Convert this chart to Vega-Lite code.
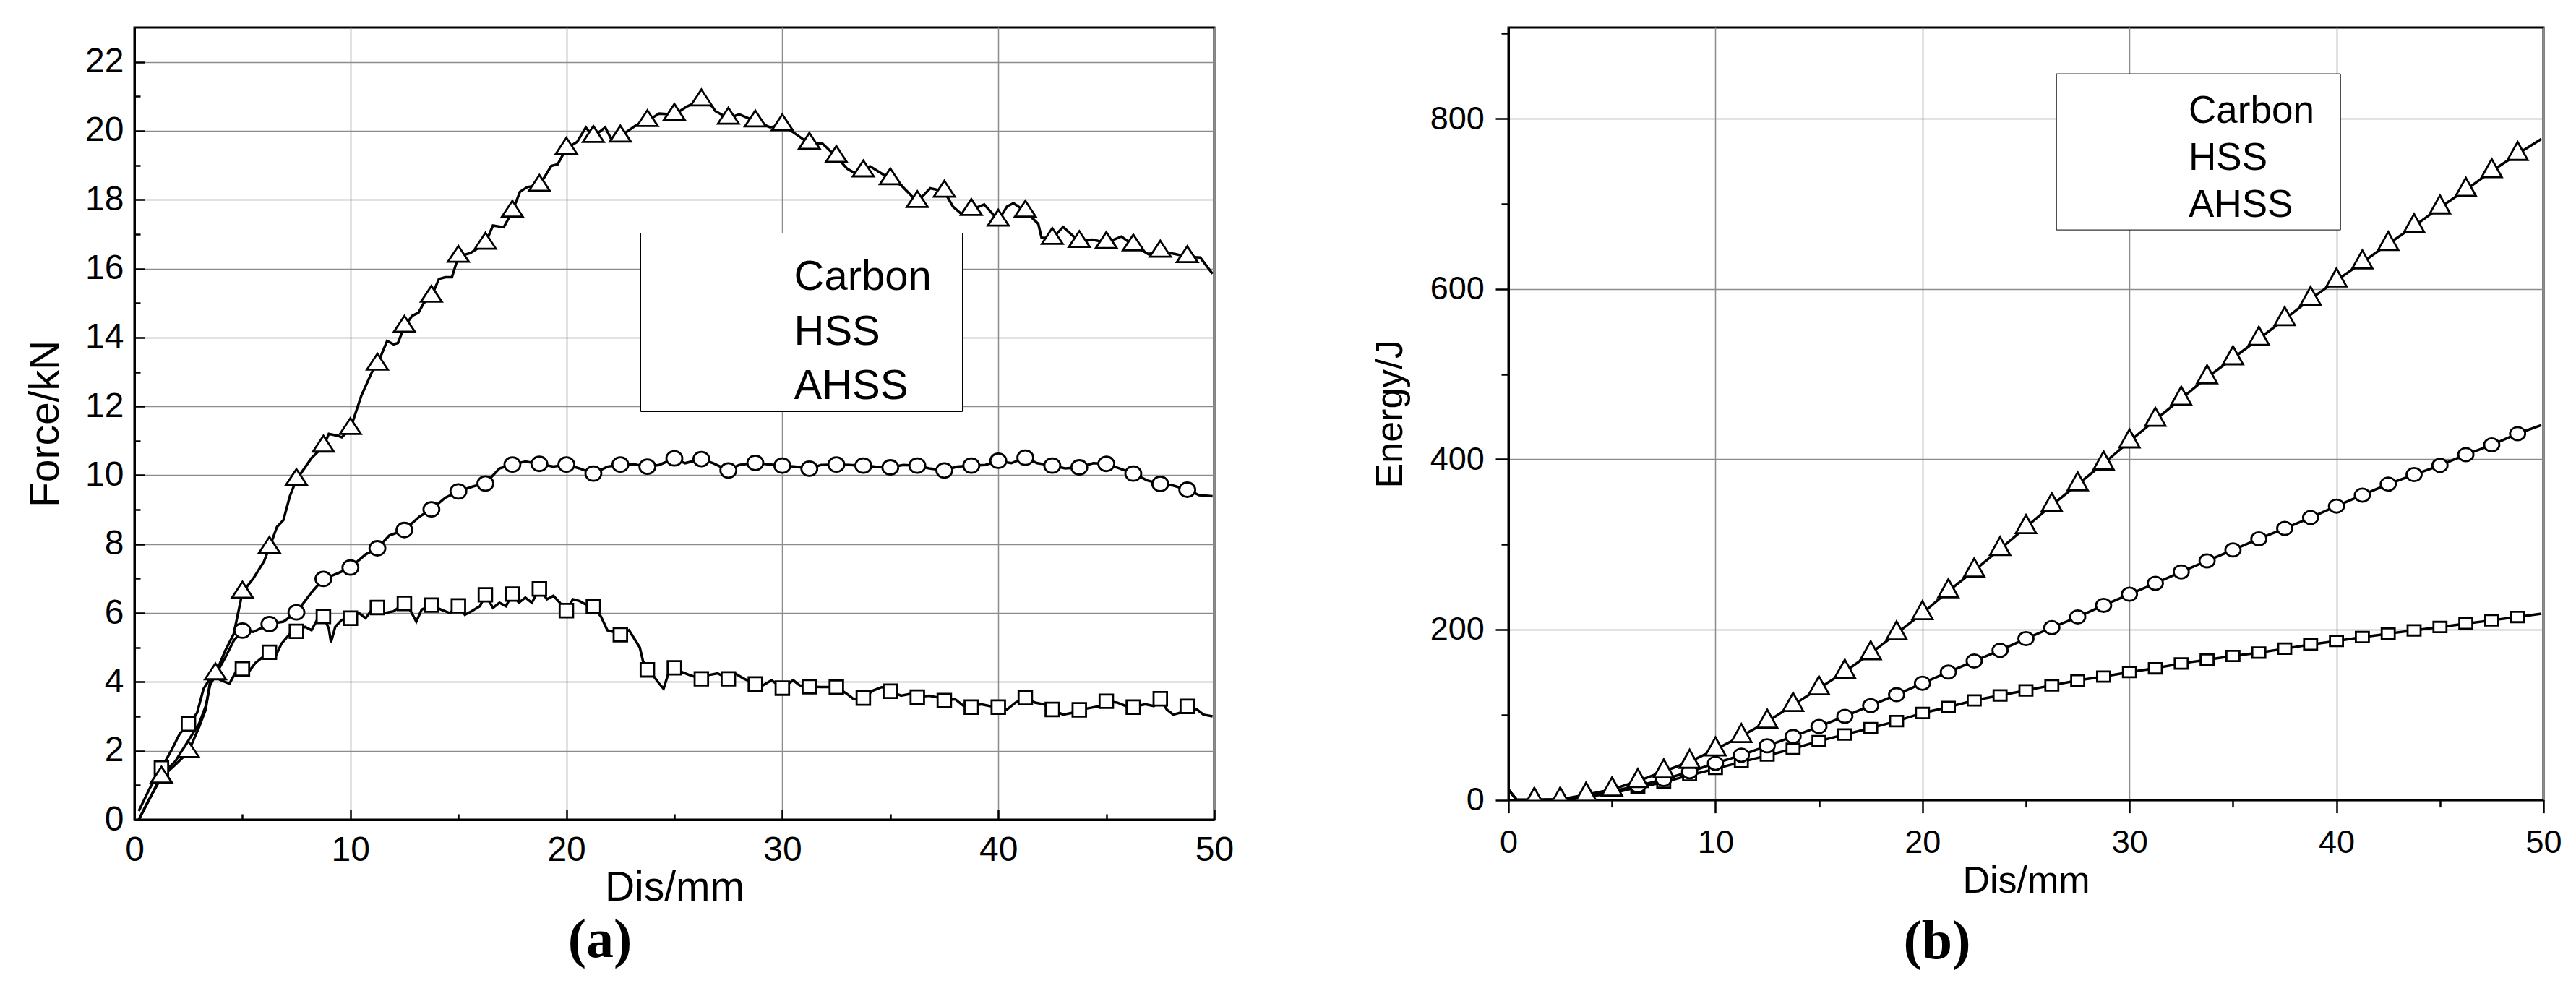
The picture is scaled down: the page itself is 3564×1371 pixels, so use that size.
{
"$schema": "https://vega.github.io/schema/vega-lite/v6.json",
"background": "white",
"padding": {"left": 33, "top": 36, "right": 5, "bottom": 5},
"spacing": 186,
"resolve": {"scale": {"shape": "independent"}, "legend": {"shape": "independent"}},
"datasets": {
"forceCurve": [
{"series":"Carbon","dis":0.2,"force":0.25},{"series":"Carbon","dis":0.7,"force":0.9},{"series":"Carbon","dis":1.25,"force":1.5},{"series":"Carbon","dis":1.7,"force":2.0},{"series":"Carbon","dis":2.1,"force":2.5},{"series":"Carbon","dis":2.5,"force":2.78},{"series":"Carbon","dis":2.9,"force":3.1},{"series":"Carbon","dis":3.2,"force":3.8},{"series":"Carbon","dis":3.5,"force":4.1},{"series":"Carbon","dis":3.75,"force":4.14},{"series":"Carbon","dis":4.0,"force":4.05},{"series":"Carbon","dis":4.4,"force":3.95},{"series":"Carbon","dis":4.7,"force":4.3},{"series":"Carbon","dis":5,"force":4.38},{"series":"Carbon","dis":5.3,"force":4.3},{"series":"Carbon","dis":5.6,"force":4.55},{"series":"Carbon","dis":6.0,"force":4.75},{"series":"Carbon","dis":6.25,"force":4.86},{"series":"Carbon","dis":6.5,"force":4.7},{"series":"Carbon","dis":6.8,"force":5.1},{"series":"Carbon","dis":7.2,"force":5.4},{"series":"Carbon","dis":7.5,"force":5.47},{"series":"Carbon","dis":7.9,"force":5.6},{"series":"Carbon","dis":8.2,"force":5.5},{"series":"Carbon","dis":8.5,"force":5.85},{"series":"Carbon","dis":8.75,"force":5.9},{"series":"Carbon","dis":9.0,"force":5.55},{"series":"Carbon","dis":9.1,"force":5.15},{"series":"Carbon","dis":9.3,"force":5.6},{"series":"Carbon","dis":9.6,"force":5.8},{"series":"Carbon","dis":10,"force":5.85},{"series":"Carbon","dis":10.4,"force":6.0},{"series":"Carbon","dis":10.7,"force":5.85},{"series":"Carbon","dis":11.0,"force":6.1},{"series":"Carbon","dis":11.25,"force":6.16},{"series":"Carbon","dis":11.6,"force":6.0},{"series":"Carbon","dis":12.0,"force":6.05},{"series":"Carbon","dis":12.5,"force":6.28},{"series":"Carbon","dis":12.8,"force":6.05},{"series":"Carbon","dis":13.05,"force":5.75},{"series":"Carbon","dis":13.3,"force":6.1},{"series":"Carbon","dis":13.75,"force":6.23},{"series":"Carbon","dis":14.2,"force":6.1},{"series":"Carbon","dis":14.6,"force":6.0},{"series":"Carbon","dis":15,"force":6.21},{"series":"Carbon","dis":15.3,"force":5.95},{"series":"Carbon","dis":15.6,"force":6.05},{"series":"Carbon","dis":16.0,"force":6.2},{"series":"Carbon","dis":16.25,"force":6.53},{"series":"Carbon","dis":16.6,"force":6.15},{"series":"Carbon","dis":16.9,"force":6.3},{"series":"Carbon","dis":17.2,"force":6.2},{"series":"Carbon","dis":17.5,"force":6.55},{"series":"Carbon","dis":17.8,"force":6.3},{"series":"Carbon","dis":18.1,"force":6.45},{"series":"Carbon","dis":18.4,"force":6.3},{"series":"Carbon","dis":18.75,"force":6.7},{"series":"Carbon","dis":19.1,"force":6.4},{"series":"Carbon","dis":19.4,"force":6.5},{"series":"Carbon","dis":19.7,"force":6.3},{"series":"Carbon","dis":20,"force":6.07},{"series":"Carbon","dis":20.3,"force":6.4},{"series":"Carbon","dis":20.6,"force":6.35},{"series":"Carbon","dis":20.9,"force":6.25},{"series":"Carbon","dis":21.25,"force":6.19},{"series":"Carbon","dis":21.6,"force":5.9},{"series":"Carbon","dis":21.9,"force":5.5},{"series":"Carbon","dis":22.2,"force":5.45},{"series":"Carbon","dis":22.5,"force":5.37},{"series":"Carbon","dis":22.9,"force":5.5},{"series":"Carbon","dis":23.2,"force":5.2},{"series":"Carbon","dis":23.4,"force":5.0},{"series":"Carbon","dis":23.55,"force":4.6},{"series":"Carbon","dis":23.75,"force":4.35},{"series":"Carbon","dis":24.0,"force":4.2},{"series":"Carbon","dis":24.3,"force":3.95},{"series":"Carbon","dis":24.5,"force":3.8},{"series":"Carbon","dis":24.7,"force":4.2},{"series":"Carbon","dis":25,"force":4.41},{"series":"Carbon","dis":25.3,"force":4.3},{"series":"Carbon","dis":25.7,"force":4.2},{"series":"Carbon","dis":26.25,"force":4.09},{"series":"Carbon","dis":26.6,"force":4.2},{"series":"Carbon","dis":27.0,"force":4.25},{"series":"Carbon","dis":27.5,"force":4.09},{"series":"Carbon","dis":27.8,"force":4.25},{"series":"Carbon","dis":28.2,"force":4.1},{"series":"Carbon","dis":28.75,"force":3.94},{"series":"Carbon","dis":29.1,"force":3.9},{"series":"Carbon","dis":29.5,"force":4.05},{"series":"Carbon","dis":30,"force":3.82},{"series":"Carbon","dis":30.5,"force":4.05},{"series":"Carbon","dis":30.8,"force":3.9},{"series":"Carbon","dis":31.25,"force":3.86},{"series":"Carbon","dis":31.8,"force":3.85},{"series":"Carbon","dis":32.5,"force":3.85},{"series":"Carbon","dis":33.0,"force":3.65},{"series":"Carbon","dis":33.3,"force":3.5},{"series":"Carbon","dis":33.75,"force":3.53},{"series":"Carbon","dis":34.2,"force":3.75},{"series":"Carbon","dis":34.6,"force":3.85},{"series":"Carbon","dis":35,"force":3.73},{"series":"Carbon","dis":35.5,"force":3.6},{"series":"Carbon","dis":35.9,"force":3.65},{"series":"Carbon","dis":36.25,"force":3.56},{"series":"Carbon","dis":36.8,"force":3.6},{"series":"Carbon","dis":37.2,"force":3.55},{"series":"Carbon","dis":37.5,"force":3.46},{"series":"Carbon","dis":38.0,"force":3.5},{"series":"Carbon","dis":38.4,"force":3.3},{"series":"Carbon","dis":38.75,"force":3.27},{"series":"Carbon","dis":39.2,"force":3.35},{"series":"Carbon","dis":39.6,"force":3.3},{"series":"Carbon","dis":40,"force":3.27},{"series":"Carbon","dis":40.4,"force":3.2},{"series":"Carbon","dis":40.8,"force":3.4},{"series":"Carbon","dis":41.25,"force":3.54},{"series":"Carbon","dis":41.7,"force":3.4},{"series":"Carbon","dis":42.1,"force":3.35},{"series":"Carbon","dis":42.5,"force":3.2},{"series":"Carbon","dis":43.0,"force":3.05},{"series":"Carbon","dis":43.4,"force":3.1},{"series":"Carbon","dis":43.75,"force":3.19},{"series":"Carbon","dis":44.3,"force":3.25},{"series":"Carbon","dis":44.7,"force":3.3},{"series":"Carbon","dis":45,"force":3.44},{"series":"Carbon","dis":45.5,"force":3.4},{"series":"Carbon","dis":45.9,"force":3.3},{"series":"Carbon","dis":46.25,"force":3.27},{"series":"Carbon","dis":46.8,"force":3.35},{"series":"Carbon","dis":47.2,"force":3.3},{"series":"Carbon","dis":47.5,"force":3.51},{"series":"Carbon","dis":47.8,"force":3.2},{"series":"Carbon","dis":48.1,"force":3.05},{"series":"Carbon","dis":48.4,"force":3.1},{"series":"Carbon","dis":48.75,"force":3.29},{"series":"Carbon","dis":49.2,"force":3.2},{"series":"Carbon","dis":49.5,"force":3.05},{"series":"Carbon","dis":49.92,"force":3.0},
{"series":"HSS","dis":0.2,"force":0},{"series":"HSS","dis":0.7,"force":0.6},{"series":"HSS","dis":1.25,"force":1.3},{"series":"HSS","dis":1.9,"force":1.7},{"series":"HSS","dis":2.5,"force":2.3},{"series":"HSS","dis":3.0,"force":2.8},{"series":"HSS","dis":3.3,"force":3.3},{"series":"HSS","dis":3.5,"force":3.9},{"series":"HSS","dis":3.75,"force":4.2},{"series":"HSS","dis":4.2,"force":4.7},{"series":"HSS","dis":4.6,"force":5.2},{"series":"HSS","dis":5,"force":5.49},{"series":"HSS","dis":5.5,"force":5.45},{"series":"HSS","dis":6.25,"force":5.68},{"series":"HSS","dis":6.9,"force":5.75},{"series":"HSS","dis":7.5,"force":6.02},{"series":"HSS","dis":8.2,"force":6.6},{"series":"HSS","dis":8.75,"force":6.99},{"series":"HSS","dis":9.4,"force":7.15},{"series":"HSS","dis":10,"force":7.32},{"series":"HSS","dis":10.7,"force":7.7},{"series":"HSS","dis":11.25,"force":7.88},{"series":"HSS","dis":11.8,"force":8.25},{"series":"HSS","dis":12.5,"force":8.41},{"series":"HSS","dis":13.2,"force":8.8},{"series":"HSS","dis":13.75,"force":9.01},{"series":"HSS","dis":14.4,"force":9.35},{"series":"HSS","dis":15,"force":9.53},{"series":"HSS","dis":15.7,"force":9.68},{"series":"HSS","dis":16.25,"force":9.76},{"series":"HSS","dis":16.9,"force":10.2},{"series":"HSS","dis":17.5,"force":10.31},{"series":"HSS","dis":18.1,"force":10.4},{"series":"HSS","dis":18.75,"force":10.33},{"series":"HSS","dis":19.4,"force":10.25},{"series":"HSS","dis":20,"force":10.31},{"series":"HSS","dis":20.6,"force":10.2},{"series":"HSS","dis":21.25,"force":10.05},{"series":"HSS","dis":21.9,"force":10.25},{"series":"HSS","dis":22.5,"force":10.31},{"series":"HSS","dis":23.1,"force":10.32},{"series":"HSS","dis":23.75,"force":10.25},{"series":"HSS","dis":24.3,"force":10.3},{"series":"HSS","dis":25,"force":10.49},{"series":"HSS","dis":25.5,"force":10.35},{"series":"HSS","dis":26.25,"force":10.47},{"series":"HSS","dis":26.8,"force":10.35},{"series":"HSS","dis":27.5,"force":10.14},{"series":"HSS","dis":28.0,"force":10.3},{"series":"HSS","dis":28.75,"force":10.36},{"series":"HSS","dis":29.3,"force":10.32},{"series":"HSS","dis":30,"force":10.28},{"series":"HSS","dis":30.6,"force":10.25},{"series":"HSS","dis":31.25,"force":10.19},{"series":"HSS","dis":31.8,"force":10.3},{"series":"HSS","dis":32.5,"force":10.31},{"series":"HSS","dis":33.1,"force":10.3},{"series":"HSS","dis":33.75,"force":10.28},{"series":"HSS","dis":34.3,"force":10.25},{"series":"HSS","dis":35,"force":10.23},{"series":"HSS","dis":35.6,"force":10.3},{"series":"HSS","dis":36.25,"force":10.28},{"series":"HSS","dis":36.8,"force":10.2},{"series":"HSS","dis":37.5,"force":10.14},{"series":"HSS","dis":38.1,"force":10.25},{"series":"HSS","dis":38.75,"force":10.28},{"series":"HSS","dis":39.4,"force":10.3},{"series":"HSS","dis":40,"force":10.42},{"series":"HSS","dis":40.6,"force":10.35},{"series":"HSS","dis":41.25,"force":10.51},{"series":"HSS","dis":41.8,"force":10.35},{"series":"HSS","dis":42.5,"force":10.28},{"series":"HSS","dis":43.1,"force":10.2},{"series":"HSS","dis":43.75,"force":10.23},{"series":"HSS","dis":44.4,"force":10.35},{"series":"HSS","dis":45,"force":10.33},{"series":"HSS","dis":45.6,"force":10.2},{"series":"HSS","dis":46.25,"force":10.05},{"series":"HSS","dis":46.9,"force":9.85},{"series":"HSS","dis":47.5,"force":9.75},{"series":"HSS","dis":48.1,"force":9.7},{"series":"HSS","dis":48.75,"force":9.58},{"series":"HSS","dis":49.3,"force":9.42},{"series":"HSS","dis":49.92,"force":9.39},
{"series":"AHSS","dis":0.2,"force":0},{"series":"AHSS","dis":0.6,"force":0.5},{"series":"AHSS","dis":1.25,"force":1.23},{"series":"AHSS","dis":1.9,"force":1.6},{"series":"AHSS","dis":2.5,"force":1.97},{"series":"AHSS","dis":3.0,"force":2.7},{"series":"AHSS","dis":3.3,"force":3.2},{"series":"AHSS","dis":3.5,"force":4.0},{"series":"AHSS","dis":3.75,"force":4.23},{"series":"AHSS","dis":4.2,"force":4.9},{"series":"AHSS","dis":4.6,"force":5.4},{"series":"AHSS","dis":5,"force":6.6},{"series":"AHSS","dis":5.5,"force":7.0},{"series":"AHSS","dis":6.0,"force":7.5},{"series":"AHSS","dis":6.25,"force":7.9},{"series":"AHSS","dis":6.6,"force":8.5},{"series":"AHSS","dis":6.9,"force":8.7},{"series":"AHSS","dis":7.2,"force":9.4},{"series":"AHSS","dis":7.5,"force":9.87},{"series":"AHSS","dis":8.2,"force":10.5},{"series":"AHSS","dis":8.75,"force":10.84},{"series":"AHSS","dis":9.0,"force":11.2},{"series":"AHSS","dis":9.4,"force":11.15},{"series":"AHSS","dis":9.6,"force":11.1},{"series":"AHSS","dis":10,"force":11.35},{"series":"AHSS","dis":10.5,"force":12.3},{"series":"AHSS","dis":11.0,"force":13.0},{"series":"AHSS","dis":11.25,"force":13.22},{"series":"AHSS","dis":11.7,"force":13.9},{"series":"AHSS","dis":12.0,"force":13.8},{"series":"AHSS","dis":12.2,"force":13.84},{"series":"AHSS","dis":12.5,"force":14.32},{"series":"AHSS","dis":12.86,"force":14.63},{"series":"AHSS","dis":13.15,"force":14.72},{"series":"AHSS","dis":13.4,"force":15.0},{"series":"AHSS","dis":13.75,"force":15.19},{"series":"AHSS","dis":14.1,"force":15.7},{"series":"AHSS","dis":14.4,"force":15.75},{"series":"AHSS","dis":14.7,"force":15.75},{"series":"AHSS","dis":15,"force":16.35},{"series":"AHSS","dis":15.55,"force":16.45},{"series":"AHSS","dis":16.25,"force":16.73},{"series":"AHSS","dis":16.6,"force":17.25},{"series":"AHSS","dis":17.1,"force":17.2},{"series":"AHSS","dis":17.5,"force":17.66},{"series":"AHSS","dis":17.85,"force":18.23},{"series":"AHSS","dis":18.2,"force":18.37},{"series":"AHSS","dis":18.75,"force":18.41},{"series":"AHSS","dis":19.3,"force":18.98},{"series":"AHSS","dis":19.6,"force":19.03},{"series":"AHSS","dis":20,"force":19.49},{"series":"AHSS","dis":20.5,"force":19.68},{"series":"AHSS","dis":20.9,"force":20.1},{"series":"AHSS","dis":21.25,"force":19.83},{"series":"AHSS","dis":21.8,"force":20.1},{"series":"AHSS","dis":22.1,"force":19.73},{"series":"AHSS","dis":22.5,"force":19.84},{"series":"AHSS","dis":23.2,"force":20.15},{"series":"AHSS","dis":23.75,"force":20.29},{"series":"AHSS","dis":24.3,"force":20.5},{"series":"AHSS","dis":25,"force":20.47},{"series":"AHSS","dis":25.6,"force":20.71},{"series":"AHSS","dis":26.25,"force":20.89},{"series":"AHSS","dis":26.75,"force":20.71},{"series":"AHSS","dis":26.9,"force":20.57},{"series":"AHSS","dis":27.5,"force":20.36},{"series":"AHSS","dis":28.0,"force":20.48},{"series":"AHSS","dis":28.75,"force":20.28},{"series":"AHSS","dis":29.44,"force":20.1},{"series":"AHSS","dis":30,"force":20.17},{"series":"AHSS","dis":30.5,"force":19.96},{"series":"AHSS","dis":31.25,"force":19.63},{"series":"AHSS","dis":31.85,"force":19.63},{"series":"AHSS","dis":32.5,"force":19.25},{"series":"AHSS","dis":33.0,"force":18.9},{"series":"AHSS","dis":33.3,"force":18.79},{"series":"AHSS","dis":33.75,"force":18.83},{"series":"AHSS","dis":34.06,"force":18.97},{"series":"AHSS","dis":34.5,"force":18.8},{"series":"AHSS","dis":35,"force":18.6},{"series":"AHSS","dis":35.5,"force":18.42},{"series":"AHSS","dis":36.25,"force":17.94},{"series":"AHSS","dis":36.85,"force":18.33},{"series":"AHSS","dis":37.5,"force":18.24},{"series":"AHSS","dis":37.9,"force":17.8},{"series":"AHSS","dis":38.3,"force":17.58},{"series":"AHSS","dis":38.75,"force":17.71},{"series":"AHSS","dis":39.35,"force":17.86},{"series":"AHSS","dis":40,"force":17.4},{"series":"AHSS","dis":40.4,"force":17.8},{"series":"AHSS","dis":40.7,"force":17.9},{"series":"AHSS","dis":41.25,"force":17.66},{"series":"AHSS","dis":41.85,"force":17.3},{"series":"AHSS","dis":42.0,"force":16.9},{"series":"AHSS","dis":42.5,"force":16.87},{"series":"AHSS","dis":43.0,"force":17.21},{"series":"AHSS","dis":43.75,"force":16.78},{"series":"AHSS","dis":44.35,"force":16.84},{"series":"AHSS","dis":45,"force":16.75},{"series":"AHSS","dis":45.7,"force":16.93},{"series":"AHSS","dis":46.25,"force":16.68},{"series":"AHSS","dis":46.95,"force":16.42},{"series":"AHSS","dis":47.5,"force":16.5},{"series":"AHSS","dis":48.2,"force":16.42},{"series":"AHSS","dis":48.75,"force":16.34},{"series":"AHSS","dis":49.35,"force":16.32},{"series":"AHSS","dis":49.92,"force":15.85}
],
"forceMarks": [
{"series":"Carbon","dis":1.25,"force":1.5},{"series":"Carbon","dis":2.5,"force":2.78},{"series":"Carbon","dis":5,"force":4.38},{"series":"Carbon","dis":6.25,"force":4.86},{"series":"Carbon","dis":7.5,"force":5.47},{"series":"Carbon","dis":8.75,"force":5.9},{"series":"Carbon","dis":10,"force":5.85},{"series":"Carbon","dis":11.25,"force":6.16},{"series":"Carbon","dis":12.5,"force":6.28},{"series":"Carbon","dis":13.75,"force":6.23},{"series":"Carbon","dis":15,"force":6.21},{"series":"Carbon","dis":16.25,"force":6.53},{"series":"Carbon","dis":17.5,"force":6.55},{"series":"Carbon","dis":18.75,"force":6.7},{"series":"Carbon","dis":20,"force":6.07},{"series":"Carbon","dis":21.25,"force":6.19},{"series":"Carbon","dis":22.5,"force":5.37},{"series":"Carbon","dis":23.75,"force":4.35},{"series":"Carbon","dis":25,"force":4.41},{"series":"Carbon","dis":26.25,"force":4.09},{"series":"Carbon","dis":27.5,"force":4.09},{"series":"Carbon","dis":28.75,"force":3.94},{"series":"Carbon","dis":30,"force":3.82},{"series":"Carbon","dis":31.25,"force":3.86},{"series":"Carbon","dis":32.5,"force":3.85},{"series":"Carbon","dis":33.75,"force":3.53},{"series":"Carbon","dis":35,"force":3.73},{"series":"Carbon","dis":36.25,"force":3.56},{"series":"Carbon","dis":37.5,"force":3.46},{"series":"Carbon","dis":38.75,"force":3.27},{"series":"Carbon","dis":40,"force":3.27},{"series":"Carbon","dis":41.25,"force":3.54},{"series":"Carbon","dis":42.5,"force":3.2},{"series":"Carbon","dis":43.75,"force":3.19},{"series":"Carbon","dis":45,"force":3.44},{"series":"Carbon","dis":46.25,"force":3.27},{"series":"Carbon","dis":47.5,"force":3.51},{"series":"Carbon","dis":48.75,"force":3.29},
{"series":"HSS","dis":5,"force":5.49},{"series":"HSS","dis":6.25,"force":5.68},{"series":"HSS","dis":7.5,"force":6.02},{"series":"HSS","dis":8.75,"force":6.99},{"series":"HSS","dis":10,"force":7.32},{"series":"HSS","dis":11.25,"force":7.88},{"series":"HSS","dis":12.5,"force":8.41},{"series":"HSS","dis":13.75,"force":9.01},{"series":"HSS","dis":15,"force":9.53},{"series":"HSS","dis":16.25,"force":9.76},{"series":"HSS","dis":17.5,"force":10.31},{"series":"HSS","dis":18.75,"force":10.33},{"series":"HSS","dis":20,"force":10.31},{"series":"HSS","dis":21.25,"force":10.05},{"series":"HSS","dis":22.5,"force":10.31},{"series":"HSS","dis":23.75,"force":10.25},{"series":"HSS","dis":25,"force":10.49},{"series":"HSS","dis":26.25,"force":10.47},{"series":"HSS","dis":27.5,"force":10.14},{"series":"HSS","dis":28.75,"force":10.36},{"series":"HSS","dis":30,"force":10.28},{"series":"HSS","dis":31.25,"force":10.19},{"series":"HSS","dis":32.5,"force":10.31},{"series":"HSS","dis":33.75,"force":10.28},{"series":"HSS","dis":35,"force":10.23},{"series":"HSS","dis":36.25,"force":10.28},{"series":"HSS","dis":37.5,"force":10.14},{"series":"HSS","dis":38.75,"force":10.28},{"series":"HSS","dis":40,"force":10.42},{"series":"HSS","dis":41.25,"force":10.51},{"series":"HSS","dis":42.5,"force":10.28},{"series":"HSS","dis":43.75,"force":10.23},{"series":"HSS","dis":45,"force":10.33},{"series":"HSS","dis":46.25,"force":10.05},{"series":"HSS","dis":47.5,"force":9.75},{"series":"HSS","dis":48.75,"force":9.58},
{"series":"AHSS","dis":1.25,"force":1.23},{"series":"AHSS","dis":2.5,"force":1.97},{"series":"AHSS","dis":3.75,"force":4.23},{"series":"AHSS","dis":5,"force":6.6},{"series":"AHSS","dis":6.25,"force":7.9},{"series":"AHSS","dis":7.5,"force":9.87},{"series":"AHSS","dis":8.75,"force":10.84},{"series":"AHSS","dis":10,"force":11.35},{"series":"AHSS","dis":11.25,"force":13.22},{"series":"AHSS","dis":12.5,"force":14.32},{"series":"AHSS","dis":13.75,"force":15.19},{"series":"AHSS","dis":15,"force":16.35},{"series":"AHSS","dis":16.25,"force":16.73},{"series":"AHSS","dis":17.5,"force":17.66},{"series":"AHSS","dis":18.75,"force":18.41},{"series":"AHSS","dis":20,"force":19.49},{"series":"AHSS","dis":21.25,"force":19.83},{"series":"AHSS","dis":22.5,"force":19.84},{"series":"AHSS","dis":23.75,"force":20.29},{"series":"AHSS","dis":25,"force":20.47},{"series":"AHSS","dis":26.25,"force":20.89},{"series":"AHSS","dis":27.5,"force":20.36},{"series":"AHSS","dis":28.75,"force":20.28},{"series":"AHSS","dis":30,"force":20.17},{"series":"AHSS","dis":31.25,"force":19.63},{"series":"AHSS","dis":32.5,"force":19.25},{"series":"AHSS","dis":33.75,"force":18.83},{"series":"AHSS","dis":35,"force":18.6},{"series":"AHSS","dis":36.25,"force":17.94},{"series":"AHSS","dis":37.5,"force":18.24},{"series":"AHSS","dis":38.75,"force":17.71},{"series":"AHSS","dis":40,"force":17.4},{"series":"AHSS","dis":41.25,"force":17.66},{"series":"AHSS","dis":42.5,"force":16.87},{"series":"AHSS","dis":43.75,"force":16.78},{"series":"AHSS","dis":45,"force":16.75},{"series":"AHSS","dis":46.25,"force":16.68},{"series":"AHSS","dis":47.5,"force":16.5},{"series":"AHSS","dis":48.75,"force":16.34}
],
"energyCurve": [
{"series":"Carbon","dis":0,"energy":12},{"series":"Carbon","dis":0.4,"energy":0},{"series":"Carbon","dis":1.25,"energy":0},{"series":"Carbon","dis":2.5,"energy":0.5},{"series":"Carbon","dis":3.75,"energy":3.5},{"series":"Carbon","dis":5,"energy":8},{"series":"Carbon","dis":6.25,"energy":14.7},{"series":"Carbon","dis":7.5,"energy":20.6},{"series":"Carbon","dis":8.75,"energy":29},{"series":"Carbon","dis":10,"energy":36.5},{"series":"Carbon","dis":11.25,"energy":44.5},{"series":"Carbon","dis":12.5,"energy":52.1},{"series":"Carbon","dis":13.75,"energy":60},{"series":"Carbon","dis":15,"energy":69},{"series":"Carbon","dis":16.25,"energy":76.8},{"series":"Carbon","dis":17.5,"energy":84.3},{"series":"Carbon","dis":18.75,"energy":92.5},{"series":"Carbon","dis":20,"energy":102},{"series":"Carbon","dis":21.25,"energy":109},{"series":"Carbon","dis":22.5,"energy":116.8},{"series":"Carbon","dis":23.75,"energy":122.7},{"series":"Carbon","dis":25,"energy":128.6},{"series":"Carbon","dis":26.25,"energy":134.5},{"series":"Carbon","dis":27.5,"energy":140.3},{"series":"Carbon","dis":28.75,"energy":144.8},{"series":"Carbon","dis":30,"energy":150.1},{"series":"Carbon","dis":31.25,"energy":154.5},{"series":"Carbon","dis":32.5,"energy":160.2},{"series":"Carbon","dis":33.75,"energy":164.6},{"series":"Carbon","dis":35,"energy":169},{"series":"Carbon","dis":36.25,"energy":172.9},{"series":"Carbon","dis":37.5,"energy":177.6},{"series":"Carbon","dis":38.75,"energy":182.4},{"series":"Carbon","dis":40,"energy":186.6},{"series":"Carbon","dis":41.25,"energy":191.1},{"series":"Carbon","dis":42.5,"energy":195.2},{"series":"Carbon","dis":43.75,"energy":199.1},{"series":"Carbon","dis":45,"energy":203},{"series":"Carbon","dis":46.25,"energy":207},{"series":"Carbon","dis":47.5,"energy":210.9},{"series":"Carbon","dis":48.75,"energy":214.8},{"series":"Carbon","dis":49.9,"energy":218.7},
{"series":"HSS","dis":0,"energy":12},{"series":"HSS","dis":0.4,"energy":0},{"series":"HSS","dis":1.25,"energy":0},{"series":"HSS","dis":2.5,"energy":0.5},{"series":"HSS","dis":3.75,"energy":4},{"series":"HSS","dis":5,"energy":10},{"series":"HSS","dis":6.25,"energy":16.5},{"series":"HSS","dis":7.5,"energy":24},{"series":"HSS","dis":8.75,"energy":33},{"series":"HSS","dis":10,"energy":43},{"series":"HSS","dis":11.25,"energy":52.5},{"series":"HSS","dis":12.5,"energy":63.5},{"series":"HSS","dis":13.75,"energy":74.5},{"series":"HSS","dis":15,"energy":86.2},{"series":"HSS","dis":16.25,"energy":98.2},{"series":"HSS","dis":17.5,"energy":110.7},{"series":"HSS","dis":18.75,"energy":123.5},{"series":"HSS","dis":20,"energy":137},{"series":"HSS","dis":21.25,"energy":150},{"series":"HSS","dis":22.5,"energy":163},{"series":"HSS","dis":23.75,"energy":175.6},{"series":"HSS","dis":25,"energy":189.3},{"series":"HSS","dis":26.25,"energy":202.3},{"series":"HSS","dis":27.5,"energy":214.8},{"series":"HSS","dis":28.75,"energy":228.5},{"series":"HSS","dis":30,"energy":241.5},{"series":"HSS","dis":31.25,"energy":254.3},{"series":"HSS","dis":32.5,"energy":267.7},{"series":"HSS","dis":33.75,"energy":280.7},{"series":"HSS","dis":35,"energy":293.5},{"series":"HSS","dis":36.25,"energy":306.5},{"series":"HSS","dis":37.5,"energy":318.7},{"series":"HSS","dis":38.75,"energy":331.5},{"series":"HSS","dis":40,"energy":345},{"series":"HSS","dis":41.25,"energy":357.9},{"series":"HSS","dis":42.5,"energy":370.8},{"series":"HSS","dis":43.75,"energy":382},{"series":"HSS","dis":45,"energy":392.8},{"series":"HSS","dis":46.25,"energy":405.4},{"series":"HSS","dis":47.5,"energy":416.8},{"series":"HSS","dis":48.75,"energy":430},{"series":"HSS","dis":49.9,"energy":440},
{"series":"AHSS","dis":0,"energy":12},{"series":"AHSS","dis":0.4,"energy":0},{"series":"AHSS","dis":1.25,"energy":0},{"series":"AHSS","dis":2.5,"energy":0.5},{"series":"AHSS","dis":3.75,"energy":6.1},{"series":"AHSS","dis":5,"energy":12.2},{"series":"AHSS","dis":6.25,"energy":22.1},{"series":"AHSS","dis":7.5,"energy":33.4},{"series":"AHSS","dis":8.75,"energy":44.7},{"series":"AHSS","dis":10,"energy":59.3},{"series":"AHSS","dis":11.25,"energy":74.9},{"series":"AHSS","dis":12.5,"energy":91.8},{"series":"AHSS","dis":13.75,"energy":111.4},{"series":"AHSS","dis":15,"energy":131},{"series":"AHSS","dis":16.25,"energy":150.5},{"series":"AHSS","dis":17.5,"energy":172.1},{"series":"AHSS","dis":18.75,"energy":195.5},{"series":"AHSS","dis":20,"energy":219.2},{"series":"AHSS","dis":21.25,"energy":245},{"series":"AHSS","dis":22.5,"energy":269.3},{"series":"AHSS","dis":23.75,"energy":294.5},{"series":"AHSS","dis":25,"energy":320.3},{"series":"AHSS","dis":26.25,"energy":346},{"series":"AHSS","dis":27.5,"energy":370.5},{"series":"AHSS","dis":28.75,"energy":395},{"series":"AHSS","dis":30,"energy":420.9},{"series":"AHSS","dis":31.25,"energy":446.3},{"series":"AHSS","dis":32.5,"energy":471},{"series":"AHSS","dis":33.75,"energy":496.1},{"series":"AHSS","dis":35,"energy":518.5},{"series":"AHSS","dis":36.25,"energy":541.4},{"series":"AHSS","dis":37.5,"energy":564.5},{"series":"AHSS","dis":38.75,"energy":588.2},{"series":"AHSS","dis":40,"energy":609.8},{"series":"AHSS","dis":41.25,"energy":631.1},{"series":"AHSS","dis":42.5,"energy":652.8},{"series":"AHSS","dis":43.75,"energy":673.7},{"series":"AHSS","dis":45,"energy":695.7},{"series":"AHSS","dis":46.25,"energy":716.3},{"series":"AHSS","dis":47.5,"energy":738.3},{"series":"AHSS","dis":48.75,"energy":758.5},{"series":"AHSS","dis":49.9,"energy":776}
],
"energyMarks": [
{"series":"Carbon","dis":6.25,"energy":14.7},{"series":"Carbon","dis":7.5,"energy":20.6},{"series":"Carbon","dis":8.75,"energy":29},{"series":"Carbon","dis":10,"energy":36.5},{"series":"Carbon","dis":11.25,"energy":44.5},{"series":"Carbon","dis":12.5,"energy":52.1},{"series":"Carbon","dis":13.75,"energy":60},{"series":"Carbon","dis":15,"energy":69},{"series":"Carbon","dis":16.25,"energy":76.8},{"series":"Carbon","dis":17.5,"energy":84.3},{"series":"Carbon","dis":18.75,"energy":92.5},{"series":"Carbon","dis":20,"energy":102},{"series":"Carbon","dis":21.25,"energy":109},{"series":"Carbon","dis":22.5,"energy":116.8},{"series":"Carbon","dis":23.75,"energy":122.7},{"series":"Carbon","dis":25,"energy":128.6},{"series":"Carbon","dis":26.25,"energy":134.5},{"series":"Carbon","dis":27.5,"energy":140.3},{"series":"Carbon","dis":28.75,"energy":144.8},{"series":"Carbon","dis":30,"energy":150.1},{"series":"Carbon","dis":31.25,"energy":154.5},{"series":"Carbon","dis":32.5,"energy":160.2},{"series":"Carbon","dis":33.75,"energy":164.6},{"series":"Carbon","dis":35,"energy":169},{"series":"Carbon","dis":36.25,"energy":172.9},{"series":"Carbon","dis":37.5,"energy":177.6},{"series":"Carbon","dis":38.75,"energy":182.4},{"series":"Carbon","dis":40,"energy":186.6},{"series":"Carbon","dis":41.25,"energy":191.1},{"series":"Carbon","dis":42.5,"energy":195.2},{"series":"Carbon","dis":43.75,"energy":199.1},{"series":"Carbon","dis":45,"energy":203},{"series":"Carbon","dis":46.25,"energy":207},{"series":"Carbon","dis":47.5,"energy":210.9},{"series":"Carbon","dis":48.75,"energy":214.8},
{"series":"HSS","dis":6.25,"energy":16.5},{"series":"HSS","dis":7.5,"energy":24},{"series":"HSS","dis":8.75,"energy":33},{"series":"HSS","dis":10,"energy":43},{"series":"HSS","dis":11.25,"energy":52.5},{"series":"HSS","dis":12.5,"energy":63.5},{"series":"HSS","dis":13.75,"energy":74.5},{"series":"HSS","dis":15,"energy":86.2},{"series":"HSS","dis":16.25,"energy":98.2},{"series":"HSS","dis":17.5,"energy":110.7},{"series":"HSS","dis":18.75,"energy":123.5},{"series":"HSS","dis":20,"energy":137},{"series":"HSS","dis":21.25,"energy":150},{"series":"HSS","dis":22.5,"energy":163},{"series":"HSS","dis":23.75,"energy":175.6},{"series":"HSS","dis":25,"energy":189.3},{"series":"HSS","dis":26.25,"energy":202.3},{"series":"HSS","dis":27.5,"energy":214.8},{"series":"HSS","dis":28.75,"energy":228.5},{"series":"HSS","dis":30,"energy":241.5},{"series":"HSS","dis":31.25,"energy":254.3},{"series":"HSS","dis":32.5,"energy":267.7},{"series":"HSS","dis":33.75,"energy":280.7},{"series":"HSS","dis":35,"energy":293.5},{"series":"HSS","dis":36.25,"energy":306.5},{"series":"HSS","dis":37.5,"energy":318.7},{"series":"HSS","dis":38.75,"energy":331.5},{"series":"HSS","dis":40,"energy":345},{"series":"HSS","dis":41.25,"energy":357.9},{"series":"HSS","dis":42.5,"energy":370.8},{"series":"HSS","dis":43.75,"energy":382},{"series":"HSS","dis":45,"energy":392.8},{"series":"HSS","dis":46.25,"energy":405.4},{"series":"HSS","dis":47.5,"energy":416.8},{"series":"HSS","dis":48.75,"energy":430},
{"series":"AHSS","dis":1.25,"energy":0},{"series":"AHSS","dis":2.5,"energy":0.5},{"series":"AHSS","dis":3.75,"energy":6.1},{"series":"AHSS","dis":5,"energy":12.2},{"series":"AHSS","dis":6.25,"energy":22.1},{"series":"AHSS","dis":7.5,"energy":33.4},{"series":"AHSS","dis":8.75,"energy":44.7},{"series":"AHSS","dis":10,"energy":59.3},{"series":"AHSS","dis":11.25,"energy":74.9},{"series":"AHSS","dis":12.5,"energy":91.8},{"series":"AHSS","dis":13.75,"energy":111.4},{"series":"AHSS","dis":15,"energy":131},{"series":"AHSS","dis":16.25,"energy":150.5},{"series":"AHSS","dis":17.5,"energy":172.1},{"series":"AHSS","dis":18.75,"energy":195.5},{"series":"AHSS","dis":20,"energy":219.2},{"series":"AHSS","dis":21.25,"energy":245},{"series":"AHSS","dis":22.5,"energy":269.3},{"series":"AHSS","dis":23.75,"energy":294.5},{"series":"AHSS","dis":25,"energy":320.3},{"series":"AHSS","dis":26.25,"energy":346},{"series":"AHSS","dis":27.5,"energy":370.5},{"series":"AHSS","dis":28.75,"energy":395},{"series":"AHSS","dis":30,"energy":420.9},{"series":"AHSS","dis":31.25,"energy":446.3},{"series":"AHSS","dis":32.5,"energy":471},{"series":"AHSS","dis":33.75,"energy":496.1},{"series":"AHSS","dis":35,"energy":518.5},{"series":"AHSS","dis":36.25,"energy":541.4},{"series":"AHSS","dis":37.5,"energy":564.5},{"series":"AHSS","dis":38.75,"energy":588.2},{"series":"AHSS","dis":40,"energy":609.8},{"series":"AHSS","dis":41.25,"energy":631.1},{"series":"AHSS","dis":42.5,"energy":652.8},{"series":"AHSS","dis":43.75,"energy":673.7},{"series":"AHSS","dis":45,"energy":695.7},{"series":"AHSS","dis":46.25,"energy":716.3},{"series":"AHSS","dis":47.5,"energy":738.3},{"series":"AHSS","dis":48.75,"energy":758.5}
]
},
"hconcat": [
{
"width": 1494, "height": 1096,
"title": {"text": "(a)", "orient": "bottom", "anchor": "middle", "frame": "group", "dx": -103, "offset": 8, "font": "Liberation Serif", "fontSize": 76, "fontWeight": "bold", "color": "black"},
"layer": [
{"data": {"name": "forceMarks"},
 "transform": [{"filter": "datum.dis === 10"}],
 "mark": {"type": "point", "filled": true, "fill": "white", "stroke": "black", "strokeWidth": 3, "opacity": 0, "size": 3364},
 "encoding": {
  "x": {"field": "dis", "type": "quantitative", "scale": {"domain": [0, 50], "nice": false, "zero": false}, "axis": null},
  "y": {"field": "force", "type": "quantitative", "scale": {"domain": [0, 23], "nice": false, "zero": false}, "axis": null},
  "shape": {"field": "series", "type": "nominal",
    "scale": {"domain": ["Carbon", "HSS", "AHSS"], "range": ["M-2.328,0H-0.396M0.396,0H2.328M-0.396,-0.396H0.396V0.396H-0.396Z", "M-2.328,0H-0.407M0.407,0H2.328M0.407,0A0.407,0.407,0,1,1,-0.407,0A0.407,0.407,0,1,1,0.407,0Z", "M-2.328,0H-0.358M0.358,0H2.328M0,-0.629L0.517,0.279L-0.517,0.279Z"]},
    "legend": {"orient": "none", "legendX": 700, "legendY": 284,
      "title": "_________________________________________________", "titleFontSize": 16, "titlePadding": 11.7, "titleOpacity": 0, "titleColor": "white", "titleFont": "Liberation Sans", "titleLimit": 2000,
      "padding": 4, "strokeColor": "black", "fillColor": "white", "labelFont": "Liberation Sans", "labelFontSize": 58, "labelColor": "black", "labelLimit": 800,
      "labelOffset": 47, "symbolSize": 3364, "symbolOffset": 100.5, "rowPadding": 15.5,
      "symbolOpacity": 1, "symbolStrokeWidth": 3, "symbolStrokeColor": "black", "symbolFillColor": "white",
      "encode": {"symbols": {"opacity": {"value": 1}, "fillOpacity": {"value": 1}, "strokeOpacity": {"value": 1}, "fill": {"value": "white"}, "stroke": {"value": "black"}, "strokeWidth": {"value": 3}, "size": {"value": 3364}}}}}
 }},
{"data": {"name": "forceCurve"},
 "mark": {"type": "line", "stroke": "black", "strokeWidth": 3.5},
 "encoding": {
  "x": {"field": "dis", "type": "quantitative", "scale": {"domain": [0, 50], "nice": false, "zero": false},
        "axis": {"orient": "bottom", "values": [0,10,20,30,40,50], "grid": true, "tickSize": -14, "labelPadding": 32, "labelFontSize": 48, "title": "Dis/mm", "titleFontSize": 57, "titlePadding": 0}},
  "y": {"field": "force", "type": "quantitative", "scale": {"domain": [0, 23], "nice": false, "zero": false},
        "axis": {"orient": "left", "values": [0,2,4,6,8,10,12,14,16,18,20,22], "grid": true, "tickSize": -14, "labelPadding": 29, "labelFontSize": 48, "title": "Force/kN", "titleFontSize": 57, "titlePadding": 25}},
  "detail": {"field": "series", "type": "nominal"}
 }},
{"data": {"name": "forceMarks"},
 "mark": {"type": "point", "filled": true, "fill": "white", "stroke": "black", "strokeWidth": 2.8, "opacity": 1, "size": 400},
 "encoding": {
  "x": {"field": "dis", "type": "quantitative", "scale": {"domain": [0, 50], "nice": false, "zero": false},
        "axis": {"orient": "bottom", "values": [5,15,25,35,45], "grid": false, "domain": false, "labels": false, "tickSize": -8, "title": null}},
  "y": {"field": "force", "type": "quantitative", "scale": {"domain": [0, 23], "nice": false, "zero": false},
        "axis": {"orient": "left", "values": [1,3,5,7,9,11,13,15,17,19,21], "grid": false, "domain": false, "labels": false, "tickSize": -8, "title": null}},
  "shape": {"field": "series", "type": "nominal", "legend": null,
    "scale": {"domain": ["Carbon", "HSS", "AHSS"], "range": ["M-0.93,-0.93H0.93V0.93H-0.93Z", "M1.1,0A1.1,1,0,1,1,-1.1,0A1.1,1,0,1,1,1.1,0Z", "M0,-1.47L1.45,0.73L-1.45,0.73Z"]}}
 }}
],
"resolve": {"axis": {"x": "independent", "y": "independent"}, "scale": {"shape": "independent"}, "legend": {"shape": "independent"}}
},
{
"width": 1432, "height": 1068.6,
"title": {"text": "(b)", "orient": "bottom", "anchor": "middle", "frame": "group", "dx": -123, "offset": 22, "font": "Liberation Serif", "fontSize": 76, "fontWeight": "bold", "color": "black"},
"layer": [
{"data": {"name": "energyMarks"},
 "transform": [{"filter": "datum.dis === 10"}],
 "mark": {"type": "point", "filled": true, "fill": "white", "stroke": "black", "strokeWidth": 3, "opacity": 0, "size": 2809},
 "encoding": {
  "x": {"field": "dis", "type": "quantitative", "scale": {"domain": [0, 50], "nice": false, "zero": false}, "axis": null},
  "y": {"field": "energy", "type": "quantitative", "scale": {"domain": [0, 907], "nice": false, "zero": false}, "axis": null},
  "shape": {"field": "series", "type": "nominal",
    "scale": {"domain": ["Carbon", "HSS", "AHSS"], "range": ["M-2.345,0H-0.352M0.352,0H2.345M-0.352,-0.352H0.352V0.352H-0.352Z", "M-2.345,0H-0.415M0.415,0H2.345M0.415,0A0.415,0.415,0,1,1,-0.415,0A0.415,0.415,0,1,1,0.415,0Z", "M-2.345,0H-0.307M0.307,0H2.345M0,-0.539L0.502,0.34L-0.502,0.34Z"]},
    "legend": {"orient": "none", "legendX": 757.7, "legendY": 63.6,
      "title": "_________________________________________________________", "titleFontSize": 12, "titlePadding": 6.2, "titleOpacity": 0, "titleColor": "white", "titleFont": "Liberation Sans", "titleLimit": 2000,
      "padding": 6, "strokeColor": "black", "fillColor": "white", "labelFont": "Liberation Sans", "labelFontSize": 53, "labelColor": "black", "labelLimit": 800,
      "labelOffset": 39, "symbolSize": 2809, "symbolOffset": 82.4, "rowPadding": 10,
      "symbolOpacity": 1, "symbolStrokeWidth": 3, "symbolStrokeColor": "black", "symbolFillColor": "white",
      "encode": {"symbols": {"opacity": {"value": 1}, "fillOpacity": {"value": 1}, "strokeOpacity": {"value": 1}, "fill": {"value": "white"}, "stroke": {"value": "black"}, "strokeWidth": {"value": 3}, "size": {"value": 2809}}}}}
 }},
{"data": {"name": "energyCurve"},
 "mark": {"type": "line", "stroke": "black", "strokeWidth": 3.5, "clip": true},
 "encoding": {
  "x": {"field": "dis", "type": "quantitative", "scale": {"domain": [0, 50], "nice": false, "zero": false},
        "axis": {"orient": "bottom", "values": [0,10,20,30,40,50], "grid": true, "tickSize": 18, "labelPadding": 18.4, "labelFontSize": 45, "title": "Dis/mm", "titleFontSize": 52, "titlePadding": 5}},
  "y": {"field": "energy", "type": "quantitative", "scale": {"domain": [0, 907], "nice": false, "zero": false},
        "axis": {"orient": "left", "values": [0,200,400,600,800], "grid": true, "tickSize": 18, "labelPadding": 15.6, "labelFontSize": 45, "title": "Energy/J", "titleFontSize": 52, "titlePadding": 28}},
  "detail": {"field": "series", "type": "nominal"}
 }},
{"data": {"name": "energyMarks"},
 "mark": {"type": "point", "filled": true, "fill": "white", "stroke": "black", "strokeWidth": 2.8, "opacity": 1, "size": 400, "clip": true},
 "encoding": {
  "x": {"field": "dis", "type": "quantitative", "scale": {"domain": [0, 50], "nice": false, "zero": false},
        "axis": {"orient": "bottom", "values": [5,15,25,35,45], "grid": false, "domain": false, "labels": false, "tickSize": 10, "title": null}},
  "y": {"field": "energy", "type": "quantitative", "scale": {"domain": [0, 907], "nice": false, "zero": false},
        "axis": {"orient": "left", "values": [100,300,500,700,900], "grid": false, "domain": false, "labels": false, "tickSize": 10, "title": null}},
  "shape": {"field": "series", "type": "nominal", "legend": null,
    "scale": {"domain": ["Carbon", "HSS", "AHSS"], "range": ["M-0.9,-0.72H0.9V0.72H-0.9Z", "M1.05,0A1.05,0.91,0,1,1,-1.05,0A1.05,0.91,0,1,1,1.05,0Z", "M0,-1.67L1.4,0.83L-1.4,0.83Z"]}}
 }}
],
"resolve": {"axis": {"x": "independent", "y": "independent"}, "scale": {"shape": "independent"}, "legend": {"shape": "independent"}}
}
],
"config": {
  "view": {"stroke": "black", "strokeWidth": 3},
  "axis": {"labelFont": "Liberation Sans", "titleFont": "Liberation Sans", "labelColor": "black", "titleColor": "black", "titleFontWeight": "normal",
           "tickColor": "black", "domainColor": "black", "domainWidth": 3, "tickWidth": 2.5, "gridColor": "#8c8c8c", "gridWidth": 1.5,
           "labelFlush": false, "labelOverlap": false, "labelBound": false}
}
}
